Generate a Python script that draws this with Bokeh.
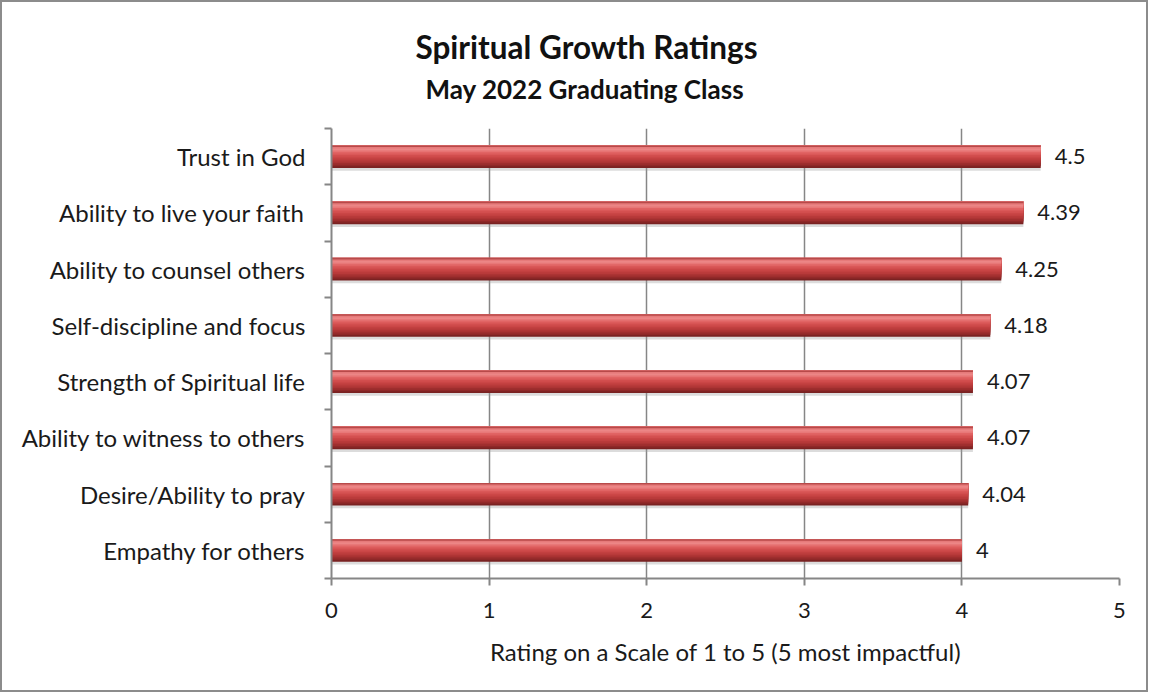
from bokeh.plotting import figure
from bokeh.models import Range1d, FixedTicker, LabelSet, ColumnDataSource, Title
from bokeh.core.properties import value
from bokeh.embed import file_html
from bokeh.resources import INLINE

categories = ["Empathy for others", "Desire/Ability to pray", "Ability to witness to others",
              "Strength of Spiritual life", "Self-discipline and focus", "Ability to counsel others",
              "Ability to live your faith", "Trust in God"]
values = [4.0, 4.04, 4.07, 4.07, 4.18, 4.25, 4.39, 4.5]
x_ticks = [0, 1, 2, 3, 4, 5]

title_text = "Spiritual Growth Ratings"
subtitle_text = "May 2022 Graduating Class"
x_label = "Rating on a Scale of 1 to 5 (5 most impactful)"

FONT = "Lato"
W, H = 1148, 692

n = len(categories)
ypos = [i + 0.5 for i in range(n)]

p = figure(width=W, height=H, output_backend="svg", toolbar_location=None,
           x_range=Range1d(0, 5), y_range=Range1d(0, n),
           min_border_left=329, min_border_right=31, min_border_top=126, min_border_bottom=116)
p.outline_line_color = None
p.styles = {"border": "2px solid #8c8c8c", "box-sizing": "border-box"}

bar_h = 0.4
band_colors = ["#b84a4a", "#e67a7a", "#ec8686", "#e87878", "#e16464", "#da5858", "#d24e4e",
               "#ca4646", "#c24040", "#b83a3a", "#ac3434", "#9e2e2e", "#8e2828", "#7a2222"]
nb = len(band_colors)

# soft shadow
p.hbar(y=[y - 0.05 for y in ypos], right=values, left=0, height=bar_h,
       fill_color="#9a9a9a", fill_alpha=0.35, line_color=None)
# gradient bands, drawn from full height down to the top band
for k in range(nb - 1, -1, -1):
    hk = bar_h * (k + 1) / nb
    yc = [y + bar_h / 2 - hk / 2 for y in ypos]
    p.hbar(y=yc, right=values, left=0, height=hk, fill_color=band_colors[k], line_color=None)

# value labels
src = ColumnDataSource(dict(x=values, y=ypos, t=[f"{v:g}" for v in values]))
p.add_layout(LabelSet(x="x", y="y", text="t", source=src, x_offset=14, text_align="left",
                      text_baseline="middle", text_font=value(FONT), text_font_size="22px",
                      text_color="#1a1a1a"))

# grid
p.xgrid.ticker = FixedTicker(ticks=x_ticks[1:])
p.xgrid.grid_line_color = "#868686"
p.xgrid.grid_line_width = 1.5
p.ygrid.grid_line_color = None

# x axis
xa = p.xaxis[0]
xa.ticker = FixedTicker(ticks=x_ticks)
xa.axis_line_color = "#868686"
xa.axis_line_width = 2
xa.major_tick_line_color = "#868686"
xa.major_tick_line_width = 2
xa.major_tick_out = 7
xa.major_tick_in = 0
xa.minor_tick_line_color = None
xa.major_label_text_font = FONT
xa.major_label_text_font_size = "22px"
xa.major_label_text_color = "#1a1a1a"
xa.major_label_standoff = 17
xa.axis_label = x_label
xa.axis_label_text_font = FONT
xa.axis_label_text_font_size = "24px"
xa.axis_label_text_font_style = "normal"
xa.axis_label_text_color = "#1a1a1a"
xa.axis_label_standoff = 16

# y axis
ya = p.yaxis[0]
ya.ticker = FixedTicker(ticks=ypos, minor_ticks=list(range(n + 1)))
ya.major_label_overrides = {y: c for y, c in zip(ypos, categories)}
ya.axis_line_color = "#868686"
ya.axis_line_width = 2
ya.major_tick_line_color = None
ya.major_tick_out = 0
ya.major_tick_in = 0
ya.minor_tick_line_color = "#868686"
ya.minor_tick_line_width = 2
ya.minor_tick_out = 7
ya.minor_tick_in = 0
ya.major_label_text_font = FONT
ya.major_label_text_font_size = "24px"
ya.major_label_text_color = "#1a1a1a"
ya.major_label_standoff = 19

# titles (first added sits closest to the plot)
p.add_layout(Title(text=" ", text_font=FONT, text_font_size="10px", standoff=5), "above")
p.add_layout(Title(text=subtitle_text, align="left", offset=94, text_font=FONT,
                   text_font_size="26px", text_font_style="bold", text_color="#111111",
                   standoff=9), "above")
p.add_layout(Title(text=title_text, align="left", offset=84, text_font=FONT,
                   text_font_size="31.5px", text_font_style="bold", text_color="#111111",
                   standoff=2), "above")

open("out.html", "w").write(file_html(p, INLINE))
